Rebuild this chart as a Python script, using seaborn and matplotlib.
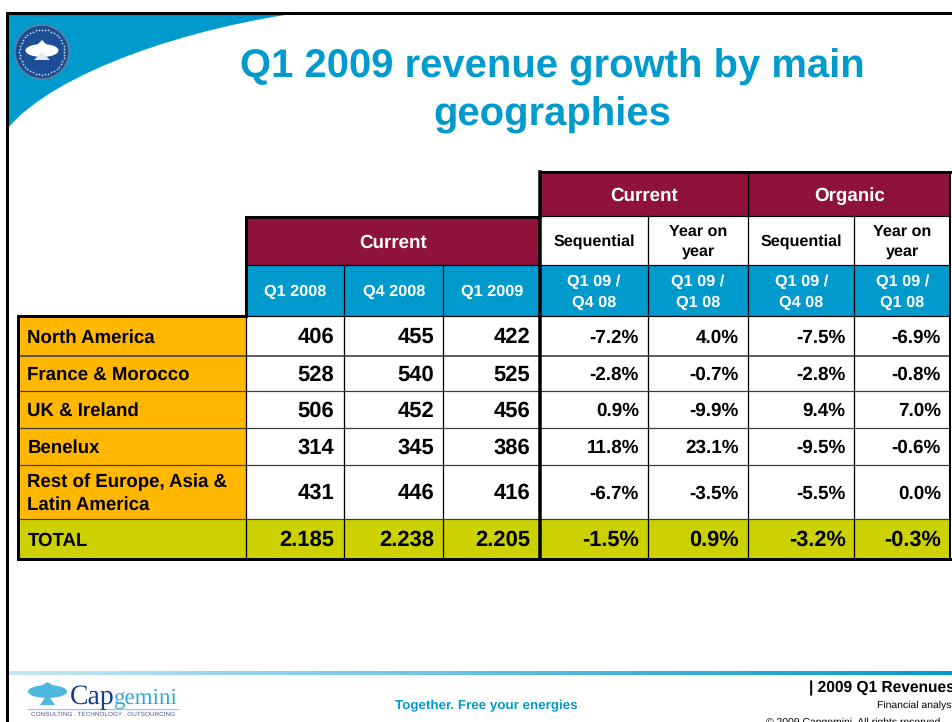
import numpy as np
import matplotlib
matplotlib.use("Agg")
import matplotlib.pyplot as plt
from matplotlib.patches import Rectangle, PathPatch, Circle, Ellipse, Polygon
from matplotlib.path import Path
from matplotlib.colors import LinearSegmentedColormap
import seaborn as sns

# ---- data ----
title = "Q1 2009 revenue growth by main\ngeographies"
regions = ["North America", "France & Morocco", "UK & Ireland", "Benelux",
           "Rest of Europe, Asia &\nLatin America"]
q1_08 = [406, 528, 506, 314, 431]
q4_08 = [455, 540, 452, 345, 446]
q1_09 = [422, 525, 456, 386, 416]
cur_seq = [-7.2, -2.8, 0.9, 11.8, -6.7]
cur_yoy = [4.0, -0.7, -9.9, 23.1, -3.5]
org_seq = [-7.5, -2.8, 9.4, -9.5, -5.5]
org_yoy = [-6.9, -0.8, 7.0, -0.6, 0.0]
total_label = "TOTAL"
total_abs = ["2.185", "2.238", "2.205"]
total_pct = [-1.5, 0.9, -3.2, -0.3]
period_heads = ["Q1 2008", "Q4 2008", "Q1 2009"]
ratio_heads = ["Q1 09 /\nQ4 08", "Q1 09 /\nQ1 08", "Q1 09 /\nQ4 08", "Q1 09 /\nQ1 08"]
kind_heads = ["Sequential", "Year on\nyear", "Sequential", "Year on\nyear"]

# ---- layout / style ----
col_x = [18, 246.5, 344, 443.5, 540, 648, 748, 854.5, 950]
row_y = [316, 356, 391, 428, 465, 519, 559]
BLUE, MAROON, ORANGE, LIME = "#009ACD", "#8E1239", "#FFB700", "#CCD200"
FONT = "Liberation Sans"

sns.set_theme(style="white", rc={"font.family": FONT, "text.hinting": "no_hinting",
                                 "text.hinting_factor": 8})
fig = plt.figure(figsize=(9.53, 7.22), dpi=100, facecolor="white")
ax = fig.add_axes([0, 0, 1, 1])
ax.set_xlim(0, 953)
ax.set_ylim(722, 0)
ax.axis("off")

def cell(x0, x1, y0, y1, fc):
    ax.add_patch(Rectangle((x0, y0), x1 - x0, y1 - y0, fc=fc, ec="none", zorder=1))

def line(xs, ys, lw=1.0, c="black"):
    ax.plot(xs, ys, color=c, lw=lw * 0.72, solid_capstyle="projecting", zorder=3)

def txt(x, y, s, size, c="black", ha="center", va="center", bold=True, **kw):
    ax.text(x, y + 1.5, s, fontsize=size, color=c, ha=ha, va=va,
            fontweight="bold" if bold else "normal", family=FONT,
            linespacing=kw.pop("linespacing", 1.0), zorder=5, **kw)

# --- slide frame and corner swoosh
swoosh = Path([(8, 12), (306, 12), (190, 27), (55, 72), (8, 128), (8, 12)],
              [Path.MOVETO, Path.LINETO, Path.CURVE4, Path.CURVE4, Path.CURVE4, Path.CLOSEPOLY])
ax.add_patch(PathPatch(swoosh, fc=BLUE, ec="none", zorder=1))
line([7.5, 7.5], [12.5, 722], 3)
line([7.5, 953], [12.5, 12.5], 3)

# --- round logo
ax.add_patch(Circle((42, 52), 27, fc="#1C4E96", ec="#6C7F9C", lw=1, zorder=2))
ang = np.linspace(0, 2 * np.pi, 44, endpoint=False)
ax.scatter(42 + 22.5 * np.cos(ang), 52 + 22.5 * np.sin(ang), s=1.6, c="#C9D6E8", lw=0, zorder=3)
ax.add_patch(Ellipse((42, 50.5), 33, 13, fc="white", ec="none", zorder=4))
ax.add_patch(Polygon([(42, 40), (35, 47), (49, 47)], fc="white", ec="none", zorder=4))
ax.add_patch(Polygon([(42, 52), (34, 60), (50, 60)], fc="#E4E8EF", ec="none", zorder=4))

# --- title
txt(552, 90, title, 28.8, c=BLUE, linespacing=1.38)

# --- header fills
cell(col_x[1], col_x[4], 216, 265, MAROON)
cell(col_x[4], col_x[8], 172, 216, MAROON)
cell(col_x[1], col_x[8], 265, 316, BLUE)
cell(col_x[4], col_x[8], 216, 265, "white")

# --- body fills
for y0, y1 in zip(row_y[:-2], row_y[1:-1]):
    cell(col_x[0], col_x[1], y0, y1, ORANGE)
cell(col_x[0], col_x[8], row_y[-2], row_y[-1], LIME)

# --- header text
txt(393.5, 241, "Current", 13.5, c="white")
txt(644.5, 194.5, "Current", 13.5, c="white")
txt(849.5, 194.5, "Organic", 13.5, c="white")
for i, s in enumerate(period_heads):
    txt((col_x[1 + i] + col_x[2 + i]) / 2, 290, s, 11.7, c="white")
for i, (k, r) in enumerate(zip(kind_heads, ratio_heads)):
    xm = (col_x[4 + i] + col_x[5 + i]) / 2
    txt(xm, 240, k, 11.6, linespacing=1.4)
    txt(xm, 290.5, r, 11.7, c="white", linespacing=1.5)

# --- body text
abs_cols = [q1_08, q4_08, q1_09]
pct_cols = [cur_seq, cur_yoy, org_seq, org_yoy]
for r, name in enumerate(regions):
    ym = (row_y[r] + row_y[r + 1]) / 2
    txt(27.5, ym, name, 13.4, ha="left", linespacing=1.3)
    for c, vals in enumerate(abs_cols):
        txt(col_x[2 + c] - 9.5, ym, str(vals[r]), 15.8, ha="right")
    for c, vals in enumerate(pct_cols):
        txt(col_x[5 + c] - 9, ym, f"{vals[r]:.1f}%", 13.6, ha="right")
ym = (row_y[-2] + row_y[-1]) / 2
txt(27.5, ym, total_label, 13.4, ha="left")
for c, s in enumerate(total_abs):
    txt(col_x[2 + c] - 9.5, ym, s, 15.8, ha="right")
for c, v in enumerate(total_pct):
    txt(col_x[5 + c] - 9, ym, f"{v:.1f}%", 15.7, ha="right")

# --- grid lines
for x in col_x[2:4]:
    line([x, x], [265, row_y[-1]], 1.3)
line([col_x[1], col_x[1]], [316, row_y[-1]], 1.3)
for x in col_x[5:8]:
    top = 172 if x == col_x[6] else 216
    line([x, x], [top, row_y[-1]], 1.3)
for i, y in enumerate(row_y[1:-1]):
    line([col_x[0], col_x[8]], [y, y], 1.6 if i == 0 else 1.2, c="#3A3A3A")
line([col_x[1], col_x[4]], [265, 265], 1.2)
line([col_x[4], col_x[8]], [216, 216], 1.2)
line([col_x[4], col_x[8]], [265, 265], 1.2)
line([col_x[1], col_x[8]], [316, 316], 1.2)
# thick outlines
line([col_x[1], col_x[4]], [216.5, 216.5], 3)
line([col_x[4], col_x[8]], [172, 172], 3)
line([col_x[1], col_x[1]], [216.5, 316], 3)
line([col_x[4], col_x[4]], [172, row_y[-1]], 3.5)
line([col_x[8], col_x[8]], [172, row_y[-1]], 2)
line([col_x[0], col_x[1]], [316, 316], 3)
line([col_x[0], col_x[0]], [316, row_y[-1]], 3)
line([col_x[0], col_x[8]], [row_y[-1], row_y[-1]], 3)

# --- footer rule, drawn as a seaborn heatmap strip
cax = fig.add_axes([9 / 953, 1 - 674.5 / 722, (953 - 9) / 953, 3.5 / 722])
grad = LinearSegmentedColormap.from_list("rule", ["#C4E6F3", "#009ACD"])
sns.heatmap(np.linspace(0, 1, 200)[None, :], ax=cax, cmap=grad, cbar=False,
            xticklabels=False, yticklabels=False)

# --- footer logo
ax.add_patch(Ellipse((47.5, 691.5), 39, 13, fc="#4FB6E0", ec="none", zorder=2))
ax.add_patch(Polygon([(47.5, 682), (38, 688), (57, 688)], fc="#4FB6E0", ec="none", zorder=2))
ax.add_patch(Polygon([(47.5, 694), (40, 705), (55, 705)], fc="#4FB6E0", ec="none", zorder=2))
ax.text(69.5, 704, "Cap", fontsize=20, color="#17408B", family="Liberation Serif", zorder=5)
ax.text(113, 704, "gemini", fontsize=16.6, color="#3AA6D8", family="Liberation Serif", zorder=5)
line([28, 178], [709, 709], 1.2, c="#8CCBE8")
txt(103, 712.5, "CONSULTING . TECHNOLOGY . OUTSOURCING", 4.6, c="#4A5A9A", bold=False)
txt(486, 704, "Together. Free your energies", 9.6, c=BLUE)
txt(809, 686.5, "| 2009 Q1 Revenues", 11.2, ha="left")
txt(877, 704, "Financial analysts", 7.5, ha="left", bold=False)
txt(766, 720.5, "© 2009 Capgemini. All rights reserved", 7.5, ha="left", bold=False)

fig.savefig("out.png", dpi=100, facecolor="white")
